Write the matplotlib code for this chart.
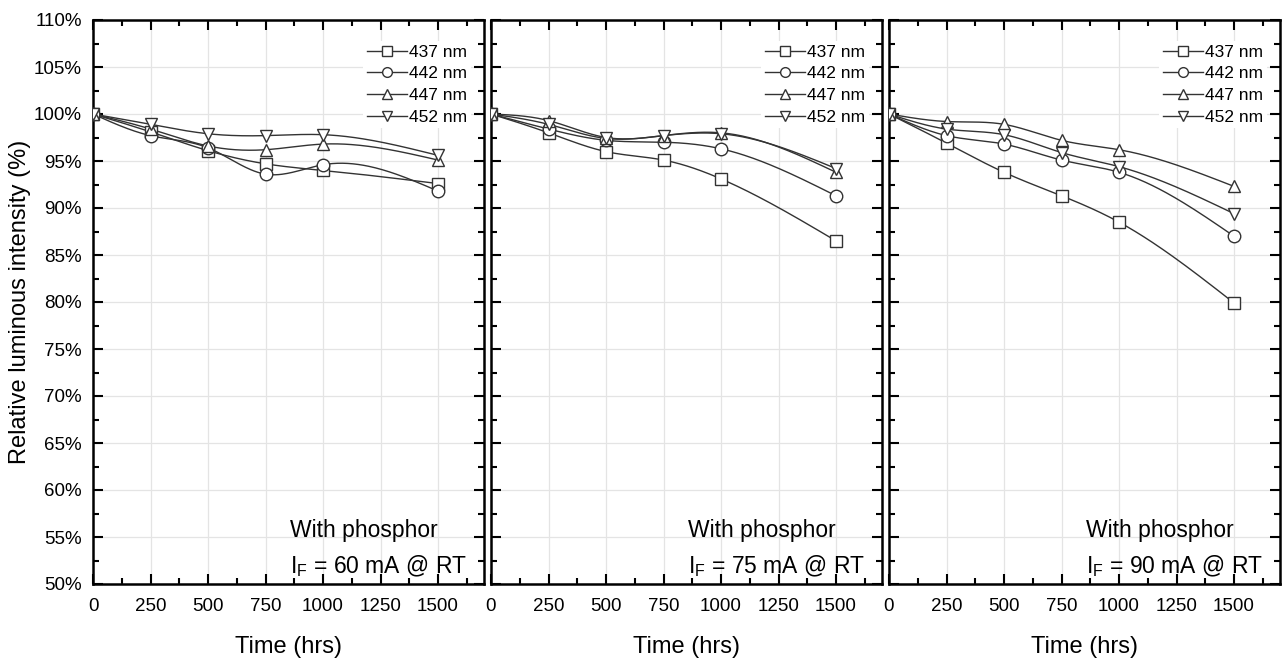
import numpy as np
import matplotlib
matplotlib.use("Agg")
import matplotlib.pyplot as plt
from matplotlib.ticker import MultipleLocator, FuncFormatter

plt.rcParams['font.family'] = ['Liberation Sans', 'DejaVu Sans']

time_hrs = [0, 250, 500, 750, 1000, 1500]
wavelengths = ["437 nm", "442 nm", "447 nm", "452 nm"]
markers = ["s", "o", "^", "v"]
currents = ["60", "75", "90"]

# Relative luminous intensity (%) per panel (60, 75, 90 mA), per wavelength
i60_437 = [100, 98.1, 96.1, 94.7, 94.0, 92.6]
i60_442 = [100, 97.7, 96.4, 93.6, 94.6, 91.8]
i60_447 = [100, 98.4, 96.6, 96.2, 96.8, 95.1]
i60_452 = [100, 98.9, 97.9, 97.7, 97.8, 95.6]

i75_437 = [100, 98.0, 96.0, 95.1, 93.1, 86.5]
i75_442 = [100, 98.4, 97.2, 97.0, 96.3, 91.3]
i75_447 = [100, 99.3, 97.5, 97.7, 98.0, 93.8]
i75_452 = [100, 98.9, 97.4, 97.7, 97.9, 94.2]

i90_437 = [100, 96.9, 93.8, 91.3, 88.5, 79.9]
i90_442 = [100, 97.7, 96.8, 95.1, 93.8, 87.0]
i90_447 = [100, 99.2, 98.9, 97.2, 96.2, 92.3]
i90_452 = [100, 98.4, 97.8, 95.9, 94.4, 89.4]

panels = [
    [i60_437, i60_442, i60_447, i60_452],
    [i75_437, i75_442, i75_447, i75_452],
    [i90_437, i90_442, i90_447, i90_452],
]


def natural_spline(x, y, n=200):
    x = np.asarray(x, float)
    y = np.asarray(y, float)
    k = len(x)
    h = np.diff(x)
    A = np.zeros((k, k))
    b = np.zeros(k)
    A[0, 0] = 1
    A[-1, -1] = 1
    for i in range(1, k - 1):
        A[i, i - 1] = h[i - 1]
        A[i, i] = 2 * (h[i - 1] + h[i])
        A[i, i + 1] = h[i]
        b[i] = 3 * ((y[i + 1] - y[i]) / h[i] - (y[i] - y[i - 1]) / h[i - 1])
    c = np.linalg.solve(A, b)
    xs = np.linspace(x[0], x[-1], n)
    ys = np.empty_like(xs)
    for j, xv in enumerate(xs):
        i = min(np.searchsorted(x, xv, side='right') - 1, k - 2)
        dx = xv - x[i]
        bi = (y[i + 1] - y[i]) / h[i] - h[i] * (2 * c[i] + c[i + 1]) / 3
        di = (c[i + 1] - c[i]) / (3 * h[i])
        ys[j] = y[i] + bi * dx + c[i] * dx ** 2 + di * dx ** 3
    return xs, ys


fig = plt.figure(figsize=(12.85, 6.62), dpi=100)
W, H = 1285, 662
lefts = [93, 491, 889]
pw = 391
top, bottom = 20, 584

line_col = '#333333'
axes = []
for p, series in enumerate(panels):
    ax = fig.add_axes([lefts[p] / W, 1 - bottom / H, pw / W, (bottom - top) / H])
    axes.append(ax)
    handles = []
    for s, vals in enumerate(series):
        xs, ys = natural_spline(time_hrs, vals)
        ax.plot(xs, ys, color=line_col, lw=1.0, zorder=3)
        ax.plot(time_hrs, vals, linestyle='none', marker=markers[s], ms=9,
                mfc='white', mec=line_col, mew=1.0, zorder=4)
        h, = ax.plot([], [], color=line_col, lw=1.0, marker=markers[s], ms=7,
                     mfc='white', mec=line_col, mew=1.0, label=wavelengths[s])
        handles.append(h)
    ax.set_xlim(0, 1700)
    ax.set_ylim(50, 110)
    ax.xaxis.set_major_locator(MultipleLocator(250))
    ax.xaxis.set_minor_locator(MultipleLocator(125))
    ax.yaxis.set_major_locator(MultipleLocator(5))
    ax.yaxis.set_minor_locator(MultipleLocator(2.5))
    ax.set_xticks([0, 250, 500, 750, 1000, 1250, 1500])
    ax.tick_params(which='both', direction='in', top=True, right=True, width=1.5)
    ax.tick_params(which='major', length=7, labelsize=13.5)
    ax.tick_params(axis='x', which='major', pad=10)
    ax.tick_params(axis='y', which='major', pad=8)
    ax.tick_params(which='minor', length=4)
    ax.yaxis.set_major_formatter(FuncFormatter(lambda v, pos: f"{int(round(v))}%"))
    if p > 0:
        ax.tick_params(axis='y', labelleft=False)
    for sp in ax.spines.values():
        sp.set_linewidth(1.8)
    ax.grid(True, which='major', color='#e4e4e4', lw=0.9, zorder=0)
    ax.set_xlabel("Time (hrs)", fontsize=17, labelpad=15)
    leg = ax.legend(handles=handles, loc='upper right',
                    bbox_to_anchor=(1 - 13 / pw, 1 - 21 / (bottom - top)),
                    fontsize=12.5, frameon=True, framealpha=1.0, edgecolor='none',
                    handlelength=2.3, handletextpad=0.15, labelspacing=0.38,
                    borderaxespad=0.0, borderpad=0.2)
    leg.set_zorder(5)
    ax.text(0.505, 0.094, "With phosphor", transform=ax.transAxes,
            fontsize=16.5, ha='left', va='center', zorder=6)
    ax.text(0.505, 0.032, r"I$_\mathregular{F}$ = " + currents[p] + " mA @ RT",
            transform=ax.transAxes, fontsize=16.5, ha='left', va='center', zorder=6)

axes[0].set_ylabel("Relative luminous intensity (%)", fontsize=17, labelpad=2)

fig.savefig("out.png", dpi=100)
